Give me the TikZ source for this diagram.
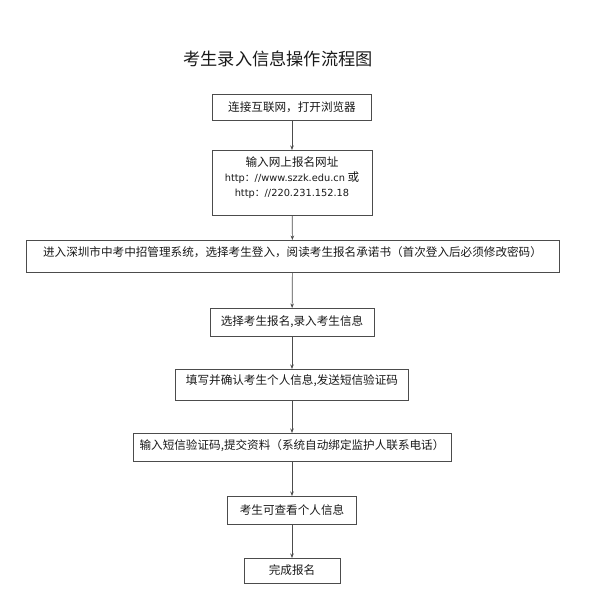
\documentclass[tikz,border=0pt]{standalone}
\usepackage{fontspec}
\newfontfamily\cjk{Noto Sans CJK SC}
\newfontfamily\urlfont{DejaVu Sans}
\usetikzlibrary{arrows.meta}
\begin{document}
\begin{tikzpicture}[x=1pt, y=-1pt,
	stepbox/.style={draw=black!70, line width=0.8pt, inner sep=0pt, anchor=north, text=black!90, font=\cjk\fontsize{11.6}{15}\selectfont},
	flow/.style={draw=black!70, line width=0.7pt, -{Stealth[length=4.5pt, width=3.5pt]}}]
	\useasboundingbox (0,0) rectangle (591,600);
	\node[anchor=base, text=black!90, font=\cjk\fontsize{17.2}{20}\selectfont] (title) at (278,65.5) {考生录入信息操作流程图};
	\node[stepbox, minimum width=159pt, text height=17.4pt, text depth=8.6pt] (connect) at (292,94) {连接互联网，打开浏览器};
	\node[stepbox, minimum width=160pt, text height=16.4pt, text depth=48.6pt] (address) at (292,150)
		{\begin{tabular}[t]{@{}c@{}}输入网上报名网址\\{\urlfont\fontsize{9.8}{15}\selectfont http}{\fontsize{9.8}{15}\selectfont ：}{\urlfont\fontsize{9.8}{15}\selectfont //www.szzk.edu.cn} 或\\{\urlfont\fontsize{9.8}{15}\selectfont http}{\fontsize{9.8}{15}\selectfont ：}{\urlfont\fontsize{9.8}{15}\selectfont //220.231.152.18}\end{tabular}};
	\node[stepbox, minimum width=533pt, text height=16.4pt, text depth=15.6pt] (login) at (292.5,240) {进入深圳市中考中招管理系统，选择考生登入，阅读考生报名承诺书（首次登入后必须修改密码）};
	\node[stepbox, minimum width=164pt, text height=17.4pt, text depth=10.6pt] (apply) at (292,308) {选择考生报名,录入考生信息};
	\node[stepbox, minimum width=233pt, text height=15.4pt, text depth=15.6pt] (confirm) at (292,369) {填写并确认考生个人信息,发送短信验证码};
	\node[stepbox, minimum width=318pt, text height=16.4pt, text depth=11.6pt] (submit) at (292,433) {输入短信验证码,提交资料（系统自动绑定监护人联系电话）};
	\node[stepbox, minimum width=129pt, text height=18.4pt, text depth=9.6pt] (view) at (292,496) {考生可查看个人信息};
	\node[stepbox, minimum width=96pt, text height=16.4pt, text depth=8.6pt] (done) at (292,558) {完成报名};
	\draw[flow] (connect) -- (address);
	\draw[flow] (address) -- (login);
	\draw[flow] (login) -- (apply);
	\draw[flow] (apply) -- (confirm);
	\draw[flow] (confirm) -- (submit);
	\draw[flow] (submit) -- (view);
	\draw[flow] (view) -- (done);
\end{tikzpicture}
\end{document}
